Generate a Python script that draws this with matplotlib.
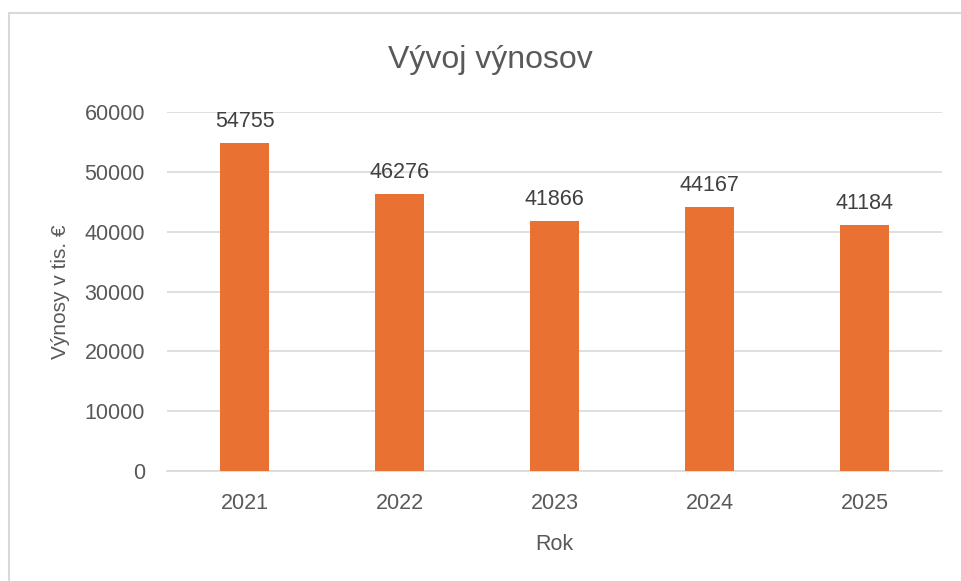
import matplotlib
matplotlib.use("Agg")
import matplotlib.pyplot as plt
from matplotlib.patches import Rectangle

years = ["2021", "2022", "2023", "2024", "2025"]
values = [54755, 46276, 41866, 44167, 41184]
yticks = [0, 10000, 20000, 30000, 40000, 50000, 60000]

FONT = "Liberation Sans"
GRAY = "#595959"

W, H = 961, 581
fig = plt.figure(figsize=(W / 100, H / 100), dpi=100)
fig.patch.set_facecolor("white")

ax_l, ax_r, ax_b, ax_t = 167, 942, 471, 112
ax = fig.add_axes([ax_l / W, (H - ax_b) / H, (ax_r - ax_l) / W, (ax_b - ax_t) / H])
x = list(range(len(years)))
ax.bar(x, values, width=0.31, color="#E97132", zorder=3)
ax.set_xlim(-0.5, len(years) - 0.5)
ax.set_ylim(0, 60000)
ax.set_yticks(yticks)
ax.set_yticklabels([str(v) for v in yticks], fontfamily=FONT, fontsize=15.5, color=GRAY)
ax.set_xticks(x)
ax.set_xticklabels(years, fontfamily=FONT, fontsize=15.5, color=GRAY)
for lab in ax.get_xticklabels():
    lab.set_va("baseline")
ax.tick_params(axis="both", length=0)
ax.tick_params(axis="x", pad=38 * 0.72)
ax.tick_params(axis="y", pad=22 * 0.72)
ax.grid(axis="y", color="#D9D9D9", linewidth=1.2, zorder=0)
for s in ["top", "right", "left"]:
    ax.spines[s].set_visible(False)
ax.spines["bottom"].set_color("#D9D9D9")
ax.spines["bottom"].set_linewidth(1.2)

for xi, v in zip(x, values):
    ax.annotate(str(v), (xi, v), xytext=(0, 16 * 0.72), textcoords="offset points",
                ha="center", va="baseline", fontfamily=FONT, fontsize=15.5, color="#404040")

ax.set_xlabel("Rok", fontfamily=FONT, fontsize=15.5, color=GRAY)
ax.xaxis.label.set_va("baseline")
ax.xaxis.set_label_coords(0.5, (ax_b - 550) / (ax_b - ax_t))
ax.set_ylabel("Výnosy v tis. €", fontfamily=FONT, fontsize=15, color=GRAY)
ax.yaxis.label.set_va("center")
ax.yaxis.set_label_coords((60 - ax_l) / (ax_r - ax_l), (ax_b - 292) / (ax_b - ax_t))

fig.text(490 / W, 1 - 68 / H, "Vývoj výnosov", ha="center", va="baseline",
         fontfamily=FONT, fontsize=23, color=GRAY)

fig.patches.append(Rectangle((9 / W, -0.1), 1.2, 1.1 - 13 / H, transform=fig.transFigure,
                             fill=False, edgecolor="#D9D9D9", linewidth=1.5))

fig.savefig("out.png", dpi=100)
